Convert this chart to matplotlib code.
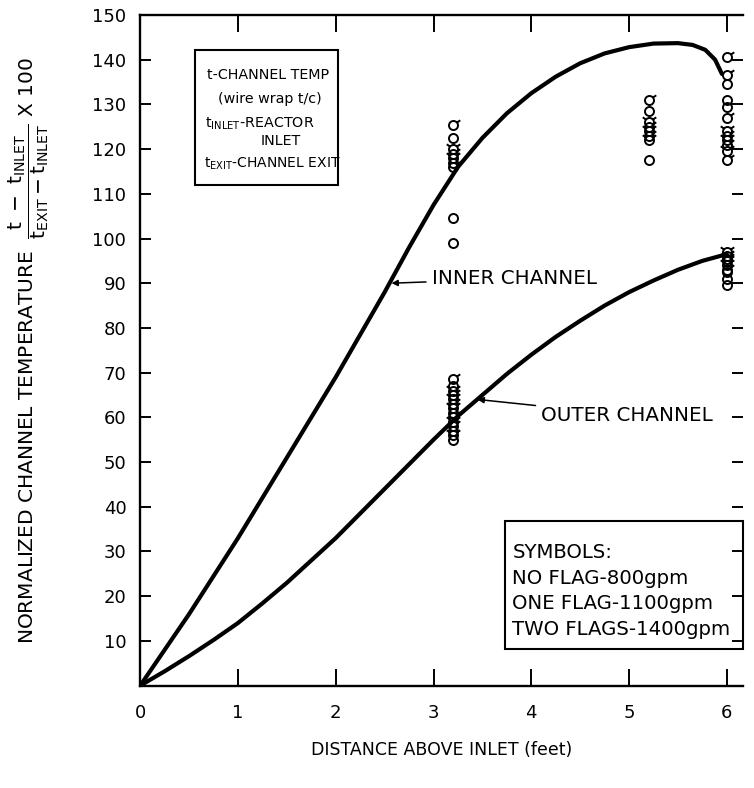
import numpy as np
import matplotlib
matplotlib.use('Agg')
from matplotlib import pyplot as plt
from matplotlib.path import Path
from matplotlib.markers import MarkerStyle
from matplotlib.patches import Rectangle

plt.rcParams['font.family'] = ['DejaVu Sans']
plt.rcParams['mathtext.fontset'] = 'dejavusans'

# curves
inner_x = [0, 0.25, 0.5, 0.75, 1, 1.25, 1.5, 1.75, 2, 2.25, 2.5, 2.75, 3, 3.25,
           3.5, 3.75, 4, 4.25, 4.5, 4.75, 5, 5.25, 5.5, 5.65, 5.78, 5.88, 5.95]
inner_y = [0, 8, 16, 24.5, 33, 42, 51, 60, 69, 78.5, 88, 98, 107.5, 116,
           122.5, 128, 132.5, 136.2, 139.2, 141.4, 142.8, 143.6, 143.7, 143.3, 142.2, 140, 136.8]
outer_x = [0, 0.25, 0.5, 0.75, 1, 1.25, 1.5, 1.75, 2, 2.25, 2.5, 2.75, 3,
           3.25, 3.5, 3.75, 4, 4.25, 4.5, 4.75, 5, 5.25, 5.5, 5.75, 6]
outer_y = [0, 3.2, 6.6, 10.2, 14, 18.4, 23, 28, 33, 38.5, 44, 49.5, 55,
           60.3, 65, 69.7, 74, 78, 81.6, 85, 88, 90.6, 93, 95, 96.5]

# measured points (x, value, number of flags)
pt_x = [3.2, 3.2, 3.2, 3.2, 3.2, 3.2, 3.2, 3.2, 3.2,
        5.2, 5.2, 5.2, 5.2, 5.2, 5.2, 5.2, 5.2,
        6.0, 6.0, 6.0, 6.0, 6.0, 6.0, 6.0, 6.0, 6.0, 6.0, 6.0, 6.0,
        3.2, 3.2, 3.2, 3.2, 3.2, 3.2, 3.2, 3.2, 3.2, 3.2, 3.2, 3.2, 3.2, 3.2,
        6.0, 6.0, 6.0, 6.0, 6.0, 6.0, 6.0, 6.0, 6.0]
pt_y = [125.5, 122.5, 120, 119, 118, 117, 116, 104.5, 99,
        131, 128.5, 126, 125, 124, 123, 122, 117.5,
        140.5, 136.5, 134.5, 131, 129.5, 127, 124, 123, 122, 121, 119.5, 117.5,
        68.5, 67, 66, 65, 64, 63, 62, 61, 60, 59, 58, 57, 56, 55,
        97, 96, 95.5, 95, 94, 93, 92.5, 91, 89.5]
pt_flags = [1, 0, 2, 1, 2, 0, 1, 0, 0,
            1, 0, 2, 1, 2, 1, 2, 0,
            1, 1, 0, 0, 0, 1, 2, 1, 2, 1, 2, 1,
            1, 0, 2, 1, 2, 1, 2, 0, 1, 2, 1, 0, 2, 0,
            2, 1, 2, 1, 2, 1, 0, 0, 0]

xticks = [0, 1, 2, 3, 4, 5, 6]
yticks = [10, 20, 30, 40, 50, 60, 70, 80, 90, 100, 110, 120, 130, 140, 150]

fig = plt.figure(figsize=(7.54, 7.88), dpi=100)
ax = fig.add_axes([0.186, 0.130, 0.80, 0.851])

ax.plot(inner_x, inner_y, color='k', lw=3, solid_capstyle='round', solid_joinstyle='round')
ax.plot(outer_x, outer_y, color='k', lw=3, solid_capstyle='round', solid_joinstyle='round')

# circle markers with flags
circ = Path.unit_circle()
flag_r = Path([(0.75, 0.65), (1.5, 1.15)], [Path.MOVETO, Path.LINETO])
flag_l = Path([(-0.75, 0.65), (-1.5, 1.15)], [Path.MOVETO, Path.LINETO])
markers = {
    0: (MarkerStyle(circ), 6.5),
    1: (MarkerStyle(Path.make_compound_path(circ, flag_r)), 6.5 * 1.5),
    2: (MarkerStyle(Path.make_compound_path(circ, flag_r, flag_l)), 6.5 * 1.5),
}
pt_x = np.array(pt_x)
pt_y = np.array(pt_y)
pt_flags = np.array(pt_flags)
for nf, (mk, ms) in markers.items():
    sel = pt_flags == nf
    ax.plot(pt_x[sel], pt_y[sel], ls='none', marker=mk, ms=ms,
            mfc='none', mec='k', mew=1.4)

ax.set_xlim(0, 6.17)
ax.set_ylim(0, 150)
ax.set_xticks(xticks)
ax.set_yticks(yticks)
ax.tick_params(axis='both', direction='in', labelsize=13, width=1.4)
ax.tick_params(axis='x', length=12, top=True, pad=13)
ax.tick_params(axis='y', length=8, right=True, pad=10)
ax.spines['right'].set_visible(False)
for s in ['left', 'bottom', 'top']:
    ax.spines[s].set_linewidth(1.7)

ax.set_xlabel('DISTANCE ABOVE INLET (feet)', fontsize=12.5, labelpad=14)
ax.set_ylabel(r'NORMALIZED CHANNEL TEMPERATURE  '
              r'$\dfrac{\mathrm{t}\ -\ \mathrm{t}_{\mathrm{INLET}}}'
              r'{\mathrm{t}_{\mathrm{EXIT}}-\mathrm{t}_{\mathrm{INLET}}}$ X 100',
              fontsize=14.5)
ax.yaxis.set_label_coords(-0.148, 0.5)

# curve labels
ax.annotate('INNER CHANNEL', xy=(2.57, 90), xytext=(2.98, 91),
            fontsize=14.3, va='center', ha='left',
            arrowprops=dict(arrowstyle='-|>', color='k', lw=1.1,
                            mutation_scale=9, shrinkA=2, shrinkB=0))
ax.annotate('OUTER CHANNEL', xy=(3.45, 64), xytext=(4.1, 60.5),
            fontsize=14.3, va='center', ha='left',
            arrowprops=dict(arrowstyle='-|>', color='k', lw=1.1,
                            mutation_scale=9, shrinkA=2, shrinkB=0))

# definition box
ax.add_patch(Rectangle((0.091, 0.746), 0.237, 0.202, transform=ax.transAxes,
                       fill=False, ec='k', lw=1.5))
ax.text(0.111, 0.91, 't-CHANNEL TEMP', transform=ax.transAxes, fontsize=10.3, va='center')
ax.text(0.129, 0.874, '(wire wrap t/c)', transform=ax.transAxes, fontsize=10.3, va='center')
ax.text(0.107, 0.838, r'$\mathrm{t}_{\mathrm{INLET}}$-REACTOR', transform=ax.transAxes,
        fontsize=10.3, va='center')
ax.text(0.2, 0.812, 'INLET', transform=ax.transAxes, fontsize=10.3, va='center')
ax.text(0.105, 0.778, r'$\mathrm{t}_{\mathrm{EXIT}}$-CHANNEL EXIT', transform=ax.transAxes,
        fontsize=10, va='center')

# symbol box
ax.add_patch(Rectangle((0.605, 0.055), 0.395, 0.191, transform=ax.transAxes,
                       fill=False, ec='k', lw=1.5, clip_on=False))
sym_lines = ['SYMBOLS:', 'NO FLAG-800gpm', 'ONE FLAG-1100gpm', 'TWO FLAGS-1400gpm']
for i, s in enumerate(sym_lines):
    ax.text(0.617, 0.198 - i * 0.038, s, transform=ax.transAxes, fontsize=14.2, va='center')

fig.savefig('out.png', dpi=100)
